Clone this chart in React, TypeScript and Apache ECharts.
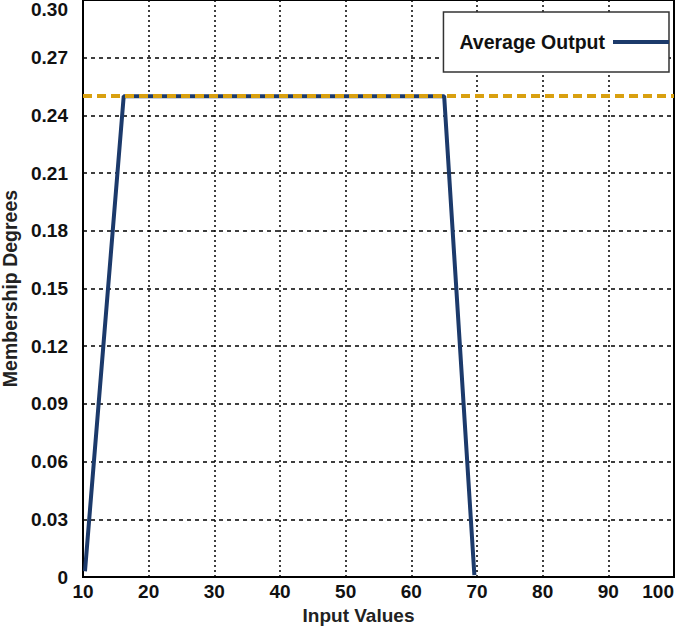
import React, { useEffect, useRef } from "react";
import * as echarts from "echarts";

const xValues = [10.3, 16.2, 65.0, 69.6];
const yValues = [0.003, 0.25, 0.25, 0.001];
const referenceLevel = [0.2525];
const xTicks = [10, 20, 30, 40, 50, 60, 70, 80, 90, 100];
const yTicks = [0, 0.03, 0.06, 0.09, 0.12, 0.15, 0.18, 0.21, 0.24, 0.27, 0.3];

const FONT = "'Liberation Sans', Arial, sans-serif";

export default function App() {
  const ref = useRef<HTMLDivElement>(null);
  useEffect(() => {
    if (!ref.current) return;
    const chart = echarts.init(ref.current, undefined, { renderer: "svg" });
    const data = xValues.map((x, i) => [x, yValues[i]]);
    chart.setOption({
      animation: false,
      textStyle: { fontFamily: FONT },
      grid: {
        left: 83,
        right: 11,
        top: 0,
        bottom: 52,
        outerBoundsMode: "none",
        containLabel: false,
        show: true,
        borderColor: "#000",
        borderWidth: 2,
        backgroundColor: "transparent",
      },
      legend: {
        right: 16,
        top: 12,
        align: "right",
        itemWidth: 56,
        itemHeight: 4,
        itemGap: 0,
        borderColor: "#333",
        borderWidth: 1.5,
        backgroundColor: "#fff",
        padding: [20, 0, 20, 16],
        textStyle: { fontFamily: FONT, fontWeight: "bold", fontSize: 19.5, color: "#111", padding: [0, 3, 0, 0] },
        data: [{ name: "Average Output", icon: "rect" }],
      },
      xAxis: {
        type: "value",
        min: xTicks[0],
        max: xTicks[xTicks.length - 1],
        interval: 10,
        name: "Input Values",
        nameLocation: "middle",
        nameGap: 29,
        nameTextStyle: { fontFamily: FONT, fontWeight: "bold", fontSize: 19, color: "#222", padding: [0, 40, 0, 0] },
        axisLine: { show: true, lineStyle: { color: "#000", width: 2 } },
        axisTick: { show: false },
        axisLabel: {
          fontFamily: FONT,
          fontWeight: "bold",
          fontSize: 19,
          color: "#111",
          margin: 5,
          alignMaxLabel: "right",
          formatter: (v: number) => String(v),
        },
        splitLine: { show: true, lineStyle: { color: "#000", width: 1.5, type: [2, 3] } },
      },
      yAxis: {
        type: "value",
        min: yTicks[0],
        max: yTicks[yTicks.length - 1],
        interval: 0.03,
        name: "Membership Degrees",
        nameLocation: "middle",
        nameGap: 57,
        nameTextStyle: { fontFamily: FONT, fontWeight: "bold", fontSize: 19.5, color: "#222" },
        axisLine: { show: true, lineStyle: { color: "#000", width: 2 } },
        axisTick: { show: false },
        axisLabel: {
          fontFamily: FONT,
          fontWeight: "bold",
          fontSize: 19,
          color: "#111",
          margin: 15,
          verticalAlignMaxLabel: "top",
          formatter: (v: number) => (v === 0 ? "0" : v.toFixed(2)),
        },
        splitLine: { show: true, lineStyle: { color: "#000", width: 1.5, type: [4, 4] } },
      },
      series: [
        {
          name: "Average Output",
          type: "line",
          data,
          symbol: "none",
          lineStyle: { color: "#1c3a6b", width: 4 },
          itemStyle: { color: "#1c3a6b" },
          markLine: {
            silent: true,
            symbol: "none",
            label: { show: false },
            lineStyle: { color: "#d9a00f", width: 4, type: [9, 5] },
            data: referenceLevel.map((v) => ({ yAxis: v })),
          },
          z: 3,
        },
      ],
    });
    return () => chart.dispose();
  }, []);
  return <div ref={ref} style={{ width: 685, height: 629, position: "absolute", left: 0, top: 0 }} />;
}
